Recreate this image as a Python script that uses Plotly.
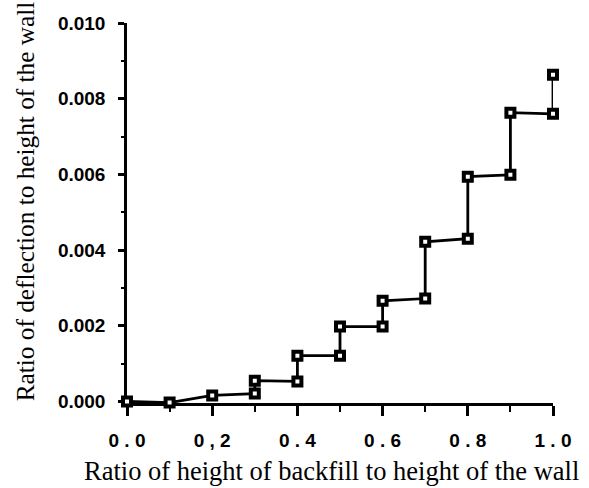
import plotly.graph_objects as go

# Data (staircase: lower/upper readings at each stage)
backfill_ratio = [0.0, 0.1, 0.2, 0.3, 0.3, 0.4, 0.4, 0.5, 0.5, 0.6, 0.6,
                  0.7, 0.7, 0.8, 0.8, 0.9, 0.9, 1.0, 1.0]
deflection_ratio = [0.0, -0.00003, 0.00016, 0.00021, 0.00055, 0.00053, 0.00121,
                    0.00121, 0.00198, 0.00198, 0.00266, 0.00272, 0.00422,
                    0.0043, 0.00594, 0.00599, 0.00763, 0.0076, 0.00863]

x_tickvals = [0.0, 0.2, 0.4, 0.6, 0.8, 1.0]
x_ticktext = ["0 . 0", "0 , 2", "0 . 4", "0 . 6", "0 . 8", "1 . 0"]
y_tickvals = [0.0, 0.002, 0.004, 0.006, 0.008, 0.010]
y_ticktext = ["0.000", "0.002", "0.004", "0.006", "0.008", "0.010"]

fig = go.Figure()
fig.add_trace(go.Scatter(
    x=backfill_ratio, y=deflection_ratio,
    mode="lines+markers",
    line=dict(color="black", width=2.8),
    marker=dict(symbol="square", size=8, color="white",
                line=dict(color="black", width=4)),
    cliponaxis=False,
    showlegend=False,
))

tickfont = dict(family="Liberation Sans", size=19, color="black", weight=600)
fig.update_xaxes(
    range=[0, 1.0], showgrid=False, zeroline=False, layer="below traces",
    showline=True, linecolor="black", linewidth=2.5,
    ticks="outside", ticklen=10, tickwidth=2.5, tickcolor="black",
    tickvals=x_tickvals, ticktext=x_ticktext, tickfont=tickfont,
    ticklabelstandoff=8,
    minor=dict(dtick=0.1, ticks="outside", ticklen=6, tickwidth=2, tickcolor="black"),
)
fig.update_yaxes(
    range=[-0.00004, 0.010], showgrid=False, zeroline=False, layer="below traces",
    showline=True, linecolor="black", linewidth=2.5,
    ticks="outside", ticklen=6, tickwidth=2.5, tickcolor="black",
    tickvals=y_tickvals, ticktext=y_ticktext, tickfont=tickfont,
    ticklabelstandoff=9,
    minor=dict(dtick=0.001, ticks="outside", ticklen=3, tickwidth=2, tickcolor="black"),
)

serif = "'Liberation Serif', 'DejaVu Serif', serif"
fig.add_annotation(text="Ratio of height of backfill to height of the wall",
                   xref="paper", yref="paper", x=0.479, y=-0.18,
                   xanchor="center", yanchor="middle", showarrow=False,
                   font=dict(family=serif, size=26.5, color="black"))
fig.add_annotation(text="Ratio of deflection to height of the wall",
                   xref="paper", yref="paper", x=-0.24, y=0.53,
                   xanchor="center", yanchor="middle", textangle=-90,
                   showarrow=False,
                   font=dict(family=serif, size=25.3, color="black"))

fig.update_layout(
    width=589, height=488,
    margin=dict(l=127, r=36, t=23, b=85),
    paper_bgcolor="white", plot_bgcolor="white",
)
fig.write_html("out.html")
